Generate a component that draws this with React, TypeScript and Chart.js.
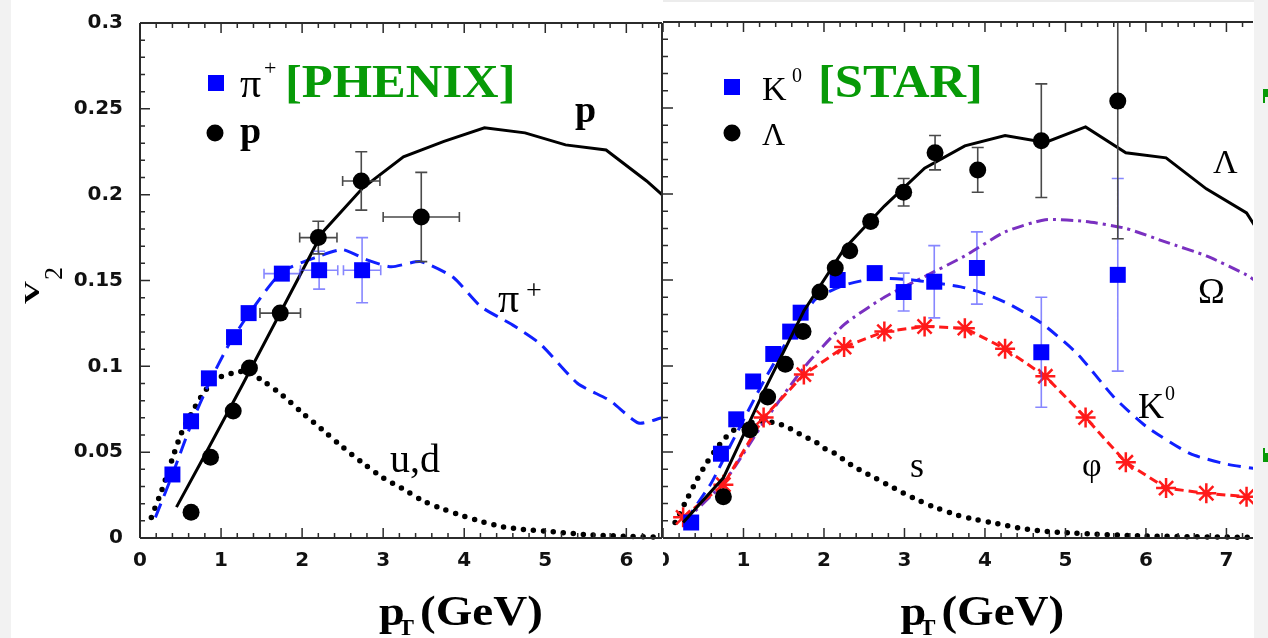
import React, { useEffect, useRef } from "react";
import { Chart, registerables } from "chart.js";

Chart.register(...registerables);

// ---------- PHENIX panel: pi+ and p ----------
const piPt = [0.40, 0.63, 0.85, 1.16, 1.34, 1.75, 2.21, 2.74];
const piV2 = [0.037, 0.068, 0.093, 0.117, 0.131, 0.154, 0.156, 0.156];
const piErrPt = [0, 0, 0, 0, 0, 0.22, 0.23, 0.23];
const piErrV2 = [0, 0, 0, 0, 0, 0.003, 0.011, 0.019];

const pPt = [0.63, 0.87, 1.15, 1.35, 1.73, 2.20, 2.73, 3.47];
const pV2 = [0.015, 0.047, 0.074, 0.099, 0.131, 0.175, 0.208, 0.187];
const pErrPt = [0, 0, 0, 0, 0.25, 0.23, 0.23, 0.47];
const pErrV2 = [0, 0, 0, 0, 0, 0.0095, 0.017, 0.026];

const pModelPt = [0.45, 0.75, 1.25, 1.75, 2.25, 2.75, 3.25, 3.75, 4.25, 4.75, 5.25, 5.75, 6.25, 6.44];
const pModelV2 = [0.018, 0.044, 0.088, 0.133, 0.178, 0.204, 0.222, 0.231, 0.239, 0.236, 0.229, 0.226, 0.208, 0.2];

const piModelPt = [0.19, 0.40, 0.63, 0.85, 1.10, 1.35, 1.75, 2.20, 2.50, 2.80, 3.10, 3.46, 3.86, 4.20, 4.60, 4.94, 5.40, 5.80, 6.15, 6.44];
const piModelV2 = [0.012, 0.037, 0.066, 0.09, 0.113, 0.131, 0.155, 0.164, 0.168, 0.162, 0.158, 0.161, 0.152, 0.135, 0.124, 0.113, 0.09, 0.08, 0.067, 0.07];

const udPt = [0.14, 0.27, 0.39, 0.51, 0.64, 0.75, 0.88, 1.00, 1.14, 1.30, 1.50, 1.76, 2.00, 2.25, 2.50, 2.74, 3.00, 3.23, 3.48, 3.73, 3.98, 4.22, 4.48, 4.73, 5.00, 5.50, 6.00, 6.44];
const udV2 = [0.012, 0.028, 0.045, 0.061, 0.073, 0.082, 0.09, 0.094, 0.096, 0.097, 0.092, 0.083, 0.073, 0.063, 0.053, 0.044, 0.035, 0.029, 0.022, 0.017, 0.013, 0.0095, 0.0065, 0.005, 0.004, 0.002, 0.001, 0.0005];

// ---------- STAR panel: K0 and Lambda ----------
const k0Pt = [0.35, 0.72, 0.91, 1.12, 1.37, 1.58, 1.71, 2.17, 2.63, 2.99, 3.37, 3.90, 4.70, 5.65];
const k0V2 = [0.009, 0.049, 0.069, 0.091, 0.107, 0.12, 0.131, 0.15, 0.154, 0.143, 0.149, 0.157, 0.108, 0.153];
const k0ErrV2 = [0, 0, 0, 0, 0, 0, 0, 0, 0.004, 0.011, 0.021, 0.021, 0.032, 0.056];

const lamPt = [0.75, 1.08, 1.30, 1.52, 1.74, 1.95, 2.14, 2.32, 2.58, 2.99, 3.38, 3.91, 4.70, 5.65];
const lamV2 = [0.024, 0.063, 0.082, 0.101, 0.12, 0.143, 0.157, 0.167, 0.184, 0.201, 0.224, 0.214, 0.231, 0.254];
const lamErrV2 = [0, 0, 0, 0, 0, 0, 0, 0, 0, 0.008, 0.01, 0.013, 0.033, 0.08];

const modelPt = [0.25, 0.75, 1.25, 1.75, 2.25, 2.75, 3.25, 3.75, 4.25, 4.75, 5.25, 5.75, 6.25, 6.75, 7.25, 7.40];
const lamModelV2 = [0.009, 0.035, 0.085, 0.132, 0.168, 0.193, 0.215, 0.228, 0.234, 0.23, 0.239, 0.224, 0.221, 0.203, 0.189, 0.178];
const omegaModelV2 = [0.009, 0.032, 0.067, 0.099, 0.124, 0.14, 0.152, 0.164, 0.178, 0.185, 0.184, 0.18, 0.172, 0.164, 0.153, 0.148];

const phiPt = [0.25, 0.75, 1.25, 1.75, 2.25, 2.75, 3.25, 3.75, 4.25, 4.75, 5.25, 5.75, 6.25, 6.75, 7.25];
const phiV2 = [0.012, 0.031, 0.07, 0.095, 0.111, 0.12, 0.123, 0.122, 0.11, 0.094, 0.07, 0.044, 0.029, 0.026, 0.024];

const k0ModelPt = [0.28, 0.60, 0.85, 1.25, 1.65, 1.90, 2.25, 2.65, 3.10, 3.70, 4.00, 4.30, 4.70, 5.15, 5.60, 6.00, 6.55, 7.00, 7.40];
const k0ModelV2 = [0.01, 0.032, 0.055, 0.091, 0.123, 0.139, 0.147, 0.151, 0.15, 0.146, 0.142, 0.136, 0.125, 0.107, 0.082, 0.065, 0.049, 0.043, 0.04];

const sPt = [0.15, 0.27, 0.40, 0.52, 0.65, 0.77, 0.89, 1.02, 1.20, 1.39, 1.52, 1.64, 1.76, 1.89, 2.01, 2.14, 2.26, 2.39, 2.51, 2.63, 2.87, 3.12, 3.37, 3.61, 3.86, 4.12, 4.53, 5.03, 6.00, 7.40];
const sV2 = [0.009, 0.02, 0.032, 0.042, 0.051, 0.058, 0.063, 0.066, 0.068, 0.067, 0.065, 0.062, 0.059, 0.056, 0.052, 0.049, 0.045, 0.041, 0.038, 0.035, 0.029, 0.023, 0.018, 0.014, 0.011, 0.0087, 0.005, 0.003, 0.0012, 0.0003];

const yTicks = [0, 0.05, 0.1, 0.15, 0.2, 0.25, 0.3];

const SERIF = '"Liberation Serif", "Times New Roman", serif';
const GREEN = "#079a07";
const BLUE = "#0000ff";
const ERR_BLUE = "rgba(70,70,255,0.65)";
const ERR_BLACK = "#4a4a4a";

const pts = (xs: number[], ys: number[]) => xs.map((x, i) => ({ x, y: ys[i] }));

function curve(xs: number[], ys: number[], color: string, dash: number[], width: number, extra: any = {}) {
  return {
    data: pts(xs, ys),
    showLine: true,
    borderColor: color,
    backgroundColor: color,
    borderWidth: width,
    borderDash: dash,
    pointRadius: 0,
    pointHoverRadius: 0,
    tension: 0,
    fill: false,
    clip: 8,
    ...extra,
  };
}

function markers(xs: number[], ys: number[], style: string, radius: number, color: string, extra: any = {}) {
  return {
    data: pts(xs, ys),
    showLine: false,
    pointStyle: style,
    pointRadius: radius,
    pointHoverRadius: radius,
    pointBackgroundColor: color,
    pointBorderColor: color,
    pointBorderWidth: 0,
    clip: 10,
    ...extra,
  };
}

function drawText(ctx: CanvasRenderingContext2D, t: string, x: number, y: number, font: string, color: string, sx = 1) {
  ctx.save();
  ctx.font = font;
  ctx.fillStyle = color;
  ctx.textAlign = "left";
  ctx.textBaseline = "alphabetic";
  ctx.translate(x, y);
  ctx.scale(sx, 1);
  ctx.fillText(t, 0, 0);
  ctx.restore();
}

// Error bars are drawn right before the marker dataset that owns them.
const errorBarPlugin = {
  id: "errorBars",
  beforeDatasetDraw(chart: any, args: any) {
    const ds: any = chart.data.datasets[args.index];
    if (!ds.errY && !ds.errX) return;
    const { ctx, chartArea: a } = chart;
    const xs = chart.scales.x;
    const ys = chart.scales.y;
    ctx.save();
    ctx.beginPath();
    ctx.rect(a.left, a.top, a.right - a.left, a.bottom - a.top);
    ctx.clip();
    ctx.strokeStyle = ds.errColor;
    ctx.lineWidth = 1.6;
    ctx.beginPath();
    ds.data.forEach((p: any, i: number) => {
      const px = xs.getPixelForValue(p.x);
      const py = ys.getPixelForValue(p.y);
      const ey = ds.errY ? ds.errY[i] : 0;
      const ex = ds.errX ? ds.errX[i] : 0;
      if (ey > 0) {
        const t = ys.getPixelForValue(p.y + ey);
        const b = ys.getPixelForValue(p.y - ey);
        ctx.moveTo(px, t); ctx.lineTo(px, b);
        ctx.moveTo(px - 6, t); ctx.lineTo(px + 6, t);
        ctx.moveTo(px - 6, b); ctx.lineTo(px + 6, b);
      }
      if (ex > 0) {
        const l = xs.getPixelForValue(p.x - ex);
        const r = xs.getPixelForValue(p.x + ex);
        ctx.moveTo(l, py); ctx.lineTo(r, py);
        ctx.moveTo(l, py - 5); ctx.lineTo(l, py + 5);
        ctx.moveTo(r, py - 5); ctx.lineTo(r, py + 5);
      }
    });
    ctx.stroke();
    ctx.restore();
  },
};

// Plot frame with inward major/minor ticks.
function framePlugin(drawRight: boolean, leftLine: boolean) {
  return {
    id: "frame",
    afterDatasetsDraw(chart: any) {
      const { ctx, chartArea: a } = chart;
      const xs = chart.scales.x;
      const ys = chart.scales.y;
      ctx.save();
      ctx.strokeStyle = "#2b2b2b";
      ctx.lineWidth = 2;
      ctx.beginPath();
      ctx.moveTo(a.left, a.top); ctx.lineTo(a.right, a.top);
      ctx.moveTo(a.left, a.bottom); ctx.lineTo(a.right, a.bottom);
      if (leftLine) { ctx.moveTo(a.left, a.top); ctx.lineTo(a.left, a.bottom); }
      if (drawRight) { ctx.moveTo(a.right, a.top); ctx.lineTo(a.right, a.bottom); }
      ctx.stroke();
      ctx.lineWidth = 1.5;
      ctx.beginPath();
      for (let k = 0; k * 0.2 <= xs.max + 1e-9; k++) {
        const px = xs.getPixelForValue(k * 0.2);
        const len = k % 5 === 0 ? 10 : 5;
        ctx.moveTo(px, a.bottom); ctx.lineTo(px, a.bottom - len);
        ctx.moveTo(px, a.top); ctx.lineTo(px, a.top + len);
      }
      for (let k = 0; k <= 30; k++) {
        const py = ys.getPixelForValue(k * 0.01);
        const len = k % 5 === 0 ? 10 : 5;
        ctx.moveTo(a.left, py); ctx.lineTo(a.left + len, py);
      }
      ctx.stroke();
      ctx.restore();
    },
  };
}

function drawAxisTitle(chart: any) {
  const ctx = chart.ctx;
  const x0 = chart.scales.x.getPixelForValue(2.95);
  drawText(ctx, "p", x0, 625, `bold 42px ${SERIF}`, "#000", 1.1);
  drawText(ctx, "T", x0 + 19, 635, `bold 24px ${SERIF}`, "#000");
  drawText(ctx, "(GeV)", x0 + 41, 625, `bold 42px ${SERIF}`, "#000", 1.12);
}

const leftLabels = {
  id: "leftLabels",
  afterDraw(chart: any) {
    const ctx = chart.ctx as CanvasRenderingContext2D;
    // legend
    ctx.fillStyle = BLUE;
    ctx.fillRect(208, 75, 16, 16);
    ctx.fillStyle = "#000";
    ctx.beginPath();
    ctx.arc(215, 133, 8.5, 0, Math.PI * 2);
    ctx.fill();
    drawText(ctx, "π", 240, 97, `42px ${SERIF}`, "#000");
    drawText(ctx, "+", 264, 75, `22px ${SERIF}`, "#000");
    drawText(ctx, "[PHENIX]", 285, 97, `bold 46px ${SERIF}`, GREEN, 1.1);
    drawText(ctx, "p", 240, 143, `bold 38px ${SERIF}`, "#000");
    // curve labels
    drawText(ctx, "p", 575, 122, `bold 38px ${SERIF}`, "#000");
    drawText(ctx, "π", 498, 312, `42px ${SERIF}`, "#000");
    drawText(ctx, "+", 526, 299, `28px ${SERIF}`, "#000");
    drawText(ctx, "u,d", 390, 472, `40px ${SERIF}`, "#000");
    // y-axis title
    ctx.save();
    ctx.translate(39, 304);
    ctx.rotate(-Math.PI / 2);
    drawText(ctx, "V", 0, 0, `bold 22px ${SERIF}`, "#000", 1.45);
    drawText(ctx, "2", 24, 23, `26px ${SERIF}`, "#000");
    ctx.restore();
    drawAxisTitle(chart);
  },
};

const rightLabels = {
  id: "rightLabels",
  afterDraw(chart: any) {
    const ctx = chart.ctx as CanvasRenderingContext2D;
    ctx.fillStyle = BLUE;
    ctx.fillRect(61, 79, 16, 16);
    ctx.fillStyle = "#000";
    ctx.beginPath();
    ctx.arc(69, 133, 8.5, 0, Math.PI * 2);
    ctx.fill();
    drawText(ctx, "K", 99, 100, `34px ${SERIF}`, "#000");
    drawText(ctx, "0", 129, 82, `20px ${SERIF}`, "#000");
    drawText(ctx, "[STAR]", 155, 97, `bold 46px ${SERIF}`, GREEN, 1.1);
    drawText(ctx, "Λ", 99, 145, `32px ${SERIF}`, "#000");
    drawText(ctx, "Λ", 550, 173, `34px ${SERIF}`, "#000");
    drawText(ctx, "Ω", 535, 303, `36px ${SERIF}`, "#000");
    drawText(ctx, "K", 475, 418, `36px ${SERIF}`, "#000");
    drawText(ctx, "0", 502, 400, `20px ${SERIF}`, "#000");
    drawText(ctx, "φ", 419, 476, `34px ${SERIF}`, "#000");
    drawText(ctx, "s", 247, 477, `36px ${SERIF}`, "#000");
    drawAxisTitle(chart);
  },
};

const tickFont = { family: '"DejaVu Sans", sans-serif', weight: "bold" as const, size: 20 };

function panelOptions(xMax: number, top: number, right: number, showY: boolean) {
  return {
    animation: false as const,
    responsive: false,
    devicePixelRatio: 1,
    events: [] as any[],
    layout: { autoPadding: false, padding: { top, right, left: 0, bottom: 0 } },
    plugins: { legend: { display: false }, tooltip: { enabled: false } },
    scales: {
      x: {
        type: "linear" as const,
        min: 0,
        max: xMax,
        grid: { display: false, drawTicks: false },
        border: { display: false },
        afterFit(s: any) {
          s.height = 100;
          s.paddingLeft = 0;
          s.paddingRight = 0;
        },
        ticks: {
          stepSize: 1,
          includeBounds: false,
          autoSkip: false,
          maxRotation: 0,
          padding: 11,
          color: "#111",
          font: tickFont,
          callback: (v: any) => String(v),
        },
      },
      y: {
        type: "linear" as const,
        min: 0,
        max: 0.3,
        display: showY,
        grid: { display: false, drawTicks: false },
        border: { display: false },
        afterFit(s: any) {
          s.width = showY ? 140 : 0;
          s.paddingTop = 0;
          s.paddingBottom = 0;
        },
        afterBuildTicks(s: any) {
          s.ticks = yTicks.map((v) => ({ value: v }));
        },
        ticks: {
          padding: 17,
          color: "#111",
          font: tickFont,
          callback: (v: any) => String(parseFloat(Number(v).toFixed(2))),
        },
      },
    },
  };
}

export default function App() {
  const leftRef = useRef<HTMLCanvasElement>(null);
  const rightRef = useRef<HTMLCanvasElement>(null);

  useEffect(() => {
    const left = new Chart(leftRef.current as HTMLCanvasElement, {
      type: "scatter",
      data: {
        datasets: [
          markers(pPt, pV2, "circle", 8.5, "#000", { errX: pErrPt, errY: pErrV2, errColor: ERR_BLACK, order: 0 }),
          markers(piPt, piV2, "rect", 11.3, BLUE, { errX: piErrPt, errY: piErrV2, errColor: ERR_BLUE, order: 1 }),
          curve(pModelPt, pModelV2, "#000", [], 3, { order: 2 }),
          curve(piModelPt, piModelV2, "#1020ff", [15, 8], 3, { order: 3, tension: 0.2 }),
          curve(udPt, udV2, "#000", [0, 10], 5.5, { order: 4, tension: 0.3, borderCapStyle: "round" }),
        ] as any,
      },
      options: panelOptions(6.44, 23, 1, true) as any,
      plugins: [errorBarPlugin, framePlugin(true, true), leftLabels] as any,
    });

    const right = new Chart(rightRef.current as HTMLCanvasElement, {
      type: "scatter",
      data: {
        datasets: [
          markers(lamPt, lamV2, "circle", 8.5, "#000", { errY: lamErrV2, errColor: ERR_BLACK, order: 0 }),
          curve(modelPt, lamModelV2, "#000", [], 3, { order: 1 }),
          markers(k0Pt, k0V2, "rect", 11.3, BLUE, { errY: k0ErrV2, errColor: ERR_BLUE, order: 2 }),
          curve(phiPt, phiV2, "#ff1a1a", [9, 5], 3, {
            order: 3,
            pointStyle: "star",
            pointRadius: 10,
            pointHoverRadius: 10,
            pointBorderColor: "#ff1a1a",
            pointBorderWidth: 2.5,
          }),
          curve(k0ModelPt, k0ModelV2, "#1020ff", [13, 8], 3, { order: 4, tension: 0.2 }),
          curve(modelPt, omegaModelV2, "#7a30c0", [12, 5, 3, 5], 3, { order: 5, tension: 0.2 }),
          curve(sPt, sV2, "#000", [0, 10], 5.5, { order: 6, tension: 0.3, borderCapStyle: "round" }),
        ] as any,
      },
      options: panelOptions(7.33, 22, 0, false) as any,
      plugins: [errorBarPlugin, framePlugin(false, false), rightLabels] as any,
    });

    return () => {
      left.destroy();
      right.destroy();
    };
  }, []);

  return (
    <div style={{ position: "absolute", left: 0, top: 0, width: 1268, height: 638, background: "#fff", overflow: "hidden" }}>
      <div style={{ position: "absolute", left: 0, top: 0, width: 11, height: 638, background: "#f2f2f2" }} />
      <div style={{ position: "absolute", left: 1254, top: 0, width: 14, height: 638, background: "#f2f2f2" }} />
      <div style={{ position: "absolute", left: 663, top: 0, width: 591, height: 2, background: "#ececec" }} />
      <div style={{ position: "absolute", left: 1263, top: 89, width: 5, height: 8, background: GREEN }} />
      <div style={{ position: "absolute", left: 1263, top: 97, width: 2, height: 6, background: GREEN }} />
      <div style={{ position: "absolute", left: 1263, top: 448, width: 2, height: 14, background: GREEN }} />
      <div style={{ position: "absolute", left: 1265, top: 453, width: 3, height: 9, background: GREEN }} />
      <canvas ref={leftRef} width={663} height={638} style={{ position: "absolute", left: 0, top: 0 }} />
      <canvas ref={rightRef} width={590} height={638} style={{ position: "absolute", left: 663, top: 0 }} />
    </div>
  );
}
